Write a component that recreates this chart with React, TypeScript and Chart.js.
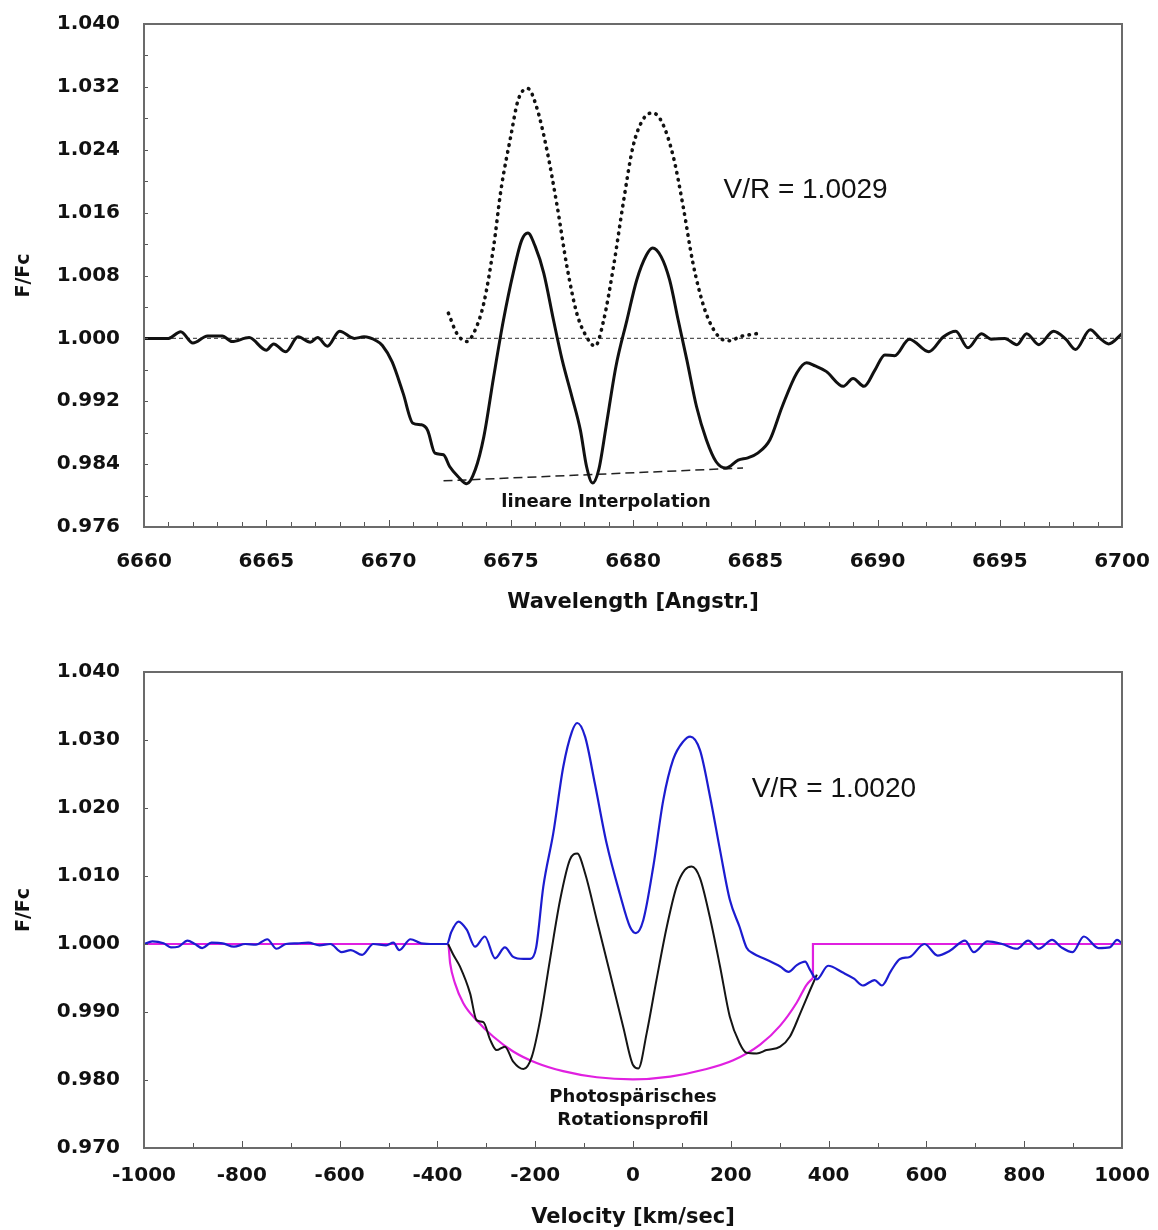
import React, { useEffect, useRef } from 'react';
import { Chart, registerables } from 'chart.js';

Chart.register(...registerables);

// ---------------- DATA: upper panel (wavelength) ----------------
const topXMajor = [6660, 6665, 6670, 6675, 6680, 6685, 6690, 6695, 6700];
const topYMajor = [0.976, 0.984, 0.992, 1.0, 1.008, 1.016, 1.024, 1.032, 1.04];

// observed spectrum (solid)
const observedWave: [number, number][] = [
  [6660.0, 1.0], [6660.5, 1.0], [6661.0, 1.0], [6661.5, 1.00085], [6662.0, 0.9994],
  [6662.6, 1.0003], [6663.2, 1.0003], [6663.6, 0.9996], [6664.3, 1.0001], [6665.0, 0.9985],
  [6665.3, 0.9993], [6665.8, 0.9983], [6666.3, 1.0002], [6666.8, 0.9995], [6667.1, 1.0001],
  [6667.5, 0.999], [6668.0, 1.0009], [6668.6, 1.0], [6669.0, 1.0002], [6669.5, 0.9997],
  [6669.75, 0.9991], [6670.15, 0.997], [6670.6, 0.993], [6671.0, 0.9892], [6671.35, 0.989],
  [6671.6, 0.9883], [6671.9, 0.9854], [6672.25, 0.9852], [6672.5, 0.9837], [6672.85, 0.9824],
  [6673.2, 0.9815], [6673.55, 0.9833], [6673.9, 0.9875], [6674.3, 0.9951], [6674.7, 1.0023],
  [6675.1, 1.0083], [6675.45, 1.0125], [6675.7, 1.0134], [6676.0, 1.0117], [6676.35, 1.0083],
  [6676.75, 1.0023], [6677.1, 0.9973], [6677.5, 0.9926], [6677.85, 0.9883], [6678.1, 0.9837],
  [6678.35, 0.9816], [6678.6, 0.9833], [6678.9, 0.9888], [6679.3, 0.9964], [6679.75, 1.0023],
  [6680.15, 1.0074], [6680.55, 1.0106], [6680.8, 1.0115], [6681.15, 1.0104], [6681.5, 1.0074],
  [6681.85, 1.0023], [6682.2, 0.9973], [6682.6, 0.9913], [6683.0, 0.9871], [6683.4, 0.9843],
  [6683.8, 0.9835], [6684.3, 0.9845], [6684.7, 0.9848], [6685.1, 0.9854], [6685.6, 0.9871],
  [6686.1, 0.9913], [6686.7, 0.9956], [6687.1, 0.9969], [6687.45, 0.9965], [6687.9, 0.9958],
  [6688.6, 0.9939], [6689.0, 0.9949], [6689.45, 0.9939], [6689.9, 0.996], [6690.3, 0.9979],
  [6690.7, 0.9978], [6691.3, 0.9999], [6692.1, 0.9983], [6692.7, 1.0002], [6693.2, 1.0009],
  [6693.7, 0.9988], [6694.25, 1.0006], [6694.65, 0.9999], [6695.2, 1.0], [6695.7, 0.9992],
  [6696.1, 1.0006], [6696.6, 0.9992], [6697.2, 1.0009], [6697.7, 0.9999], [6698.1, 0.9986],
  [6698.7, 1.0011], [6699.1, 1.0], [6699.45, 0.9993], [6700.0, 1.0006],
];

// emission component after subtracting the interpolation (dotted)
const emissionWave: [number, number][] = [
  [6672.45, 1.0032], [6672.8, 1.0006], [6673.2, 0.9996], [6673.55, 1.0011], [6673.9, 1.0045],
  [6674.3, 1.0117], [6674.6, 1.0189], [6675.0, 1.0257], [6675.3, 1.0303], [6675.7, 1.0318],
  [6676.05, 1.0295], [6676.45, 1.0244], [6676.9, 1.0168], [6677.3, 1.0091], [6677.7, 1.0032],
  [6678.1, 1.0002], [6678.45, 0.999], [6678.8, 1.0023], [6679.2, 1.0091], [6679.6, 1.0172],
  [6680.0, 1.0244], [6680.4, 1.0278], [6680.8, 1.0287], [6681.2, 1.0274], [6681.65, 1.0231],
  [6682.05, 1.0168], [6682.45, 1.0096], [6682.9, 1.004], [6683.3, 1.0011], [6683.7, 0.9998],
  [6684.0, 0.9997], [6684.35, 1.0002], [6684.65, 1.0004], [6685.05, 1.0006],
];

const continuumWave: [number, number][] = [[6660, 1.0], [6700, 1.0]];
const interpolationWave: [number, number][] = [[6672.25, 0.98187], [6684.5, 0.9835]];

const topNotes = [
  { text: 'V/R = 1.0029', x: 6683.7, y: 1.0189, kind: 'big' },
  { text: 'lineare Interpolation', x: 6678.9, y: 0.9791, kind: 'small' },
];

// ---------------- DATA: lower panel (velocity) ----------------
const botXMajor = [-1000, -800, -600, -400, -200, 0, 200, 400, 600, 800, 1000];
const botYMajor = [0.97, 0.98, 0.99, 1.0, 1.01, 1.02, 1.03, 1.04];

const emissionVel: [number, number][] = [
  [-1000, 1.0], [-983, 1.0004], [-960, 1.0001], [-945, 0.9995], [-930, 0.9996], [-911, 1.0005],
  [-896, 1.0], [-881, 0.9994], [-862, 1.0002], [-839, 1.0001], [-816, 0.9996], [-793, 1.0],
  [-771, 0.9999], [-748, 1.0007], [-729, 0.9993], [-710, 1.0], [-687, 1.0001], [-664, 1.0002],
  [-641, 0.9998], [-619, 1.0], [-596, 0.9988], [-577, 0.9991], [-554, 0.9984], [-531, 1.0],
  [-505, 0.9998], [-490, 1.0002], [-478, 0.9991], [-455, 1.0007], [-433, 1.0001], [-406, 1.0],
  [-380, 1.0], [-372, 1.0017], [-357, 1.0033], [-340, 1.0021], [-323, 0.9996], [-303, 1.0011],
  [-282, 0.9979], [-262, 0.9995], [-245, 0.9981], [-224, 0.9978], [-210, 0.9978], [-198, 0.9995],
  [-183.5, 1.0084], [-163, 1.0163], [-142.5, 1.0261], [-125, 1.0312], [-114, 1.0325], [-98, 1.0305],
  [-78, 1.0236], [-54, 1.0148], [-27, 1.0074], [-6, 1.0025], [6, 1.0016], [21, 1.0035],
  [41.5, 1.0114], [62, 1.0212], [82, 1.0271], [103, 1.0298], [117, 1.0305], [137, 1.0285],
  [157.5, 1.0217], [178, 1.0138], [198, 1.0065], [218, 1.0025], [232, 0.9995], [246, 0.9986],
  [270, 0.9978], [301, 0.9967], [318, 0.9959], [335, 0.9969], [352, 0.9974], [362, 0.9962],
  [376, 0.9948], [399, 0.9968], [429, 0.9958], [452, 0.9949], [470, 0.9939], [494, 0.9947],
  [509, 0.9939], [528, 0.9961], [546, 0.9978], [566, 0.9981], [596, 1.0], [623, 0.9983],
  [648, 0.999], [679, 1.0005], [697, 0.9988], [725, 1.0004], [755, 1.0], [785, 0.9993],
  [808, 1.0005], [830, 0.9993], [857, 1.0006], [876, 0.9995], [899, 0.9988], [922, 1.0011],
  [952, 0.9994], [975, 0.9995], [990, 1.0006], [1000, 1.0001],
];

const observedVel: [number, number][] = [
  [-378, 1.0], [-368, 0.9985], [-354, 0.9967], [-333, 0.9927], [-320, 0.9888], [-306, 0.9885],
  [-292, 0.9859], [-279, 0.9844], [-262, 0.9849], [-245, 0.9827], [-224, 0.9816], [-207, 0.9834],
  [-190, 0.9888], [-170, 0.9976], [-149, 1.0065], [-129, 1.0124], [-114, 1.0133], [-98, 1.0104],
  [-74, 1.0035], [-47, 0.9957], [-20, 0.9878], [0, 0.9822], [11, 0.9817], [28, 0.9869],
  [48, 0.9947], [69, 1.0025], [89, 1.0084], [106, 1.0109], [120, 1.0114], [137, 1.0097],
  [157, 1.004], [178, 0.9967], [198, 0.9893], [218, 0.9854], [232, 0.984], [253, 0.9839],
  [273, 0.9844], [301, 0.9849], [321, 0.9864], [342, 0.9898], [362, 0.9932], [376, 0.9955],
];

const rotationArc: [number, number][] = [
  [-1000, 1.0], [-378, 1.0], [-374, 0.9972], [-364, 0.9942], [-347, 0.9913], [-320, 0.9888],
  [-286, 0.9864], [-245, 0.9842], [-197, 0.9825], [-143, 0.9813], [-74, 0.9804], [0, 0.9801],
  [76, 0.9805], [144, 0.9815], [205, 0.9829], [260, 0.9852], [301, 0.988], [335, 0.9914],
  [355, 0.994], [368, 0.995],
];
const rotationStep: [number, number][] = [[368, 0.995], [368, 1.0], [1000, 1.0]];

const botNotes = [
  { text: 'V/R = 1.0020', x: 243, y: 1.0227, kind: 'big' },
  { text: 'Photospärisches', x: 0, y: 0.9775, kind: 'small' },
  { text: 'Rotationsprofil', x: 0, y: 0.9740, kind: 'small' },
];

// ---------------- helpers ----------------
const W = 1158;
const H = 615;
const TICK_FONT = { family: '"DejaVu Sans"', size: 20, weight: 'bold' as const };
const TITLE_FONT = { family: '"DejaVu Sans"', size: 21, weight: 'bold' as const };

const pts = (arr: [number, number][]) => arr.map(([x, y]) => ({ x, y }));
const isIn = (v: number, list: number[]) => list.some((m) => Math.abs(m - v) < 1e-7);

function makeFramePlugin(xMajor: number[], yMajor: number[], notes: { text: string; x: number; y: number; kind: string }[]) {
  return {
    id: 'frameAndNotes',
    afterDatasetsDraw(chart: any) {
      const { ctx, chartArea: a, scales } = chart;
      const xs = scales.x;
      const ys = scales.y;
      ctx.save();
      ctx.strokeStyle = '#555';
      ctx.lineWidth = 1;
      xs.ticks.forEach((t: any) => {
        const px = Math.round(xs.getPixelForValue(t.value)) + 0.5;
        const len = isIn(t.value, xMajor) ? 7 : 5;
        ctx.beginPath();
        ctx.moveTo(px, a.bottom);
        ctx.lineTo(px, a.bottom - len);
        ctx.stroke();
      });
      ys.ticks.forEach((t: any) => {
        const py = Math.round(ys.getPixelForValue(t.value)) + 0.5;
        ctx.beginPath();
        ctx.moveTo(a.left, py);
        ctx.lineTo(a.left + 4, py);
        ctx.stroke();
      });
      ctx.strokeStyle = '#6b6b6b';
      ctx.lineWidth = 2;
      ctx.strokeRect(a.left, a.top, a.right - a.left, a.bottom - a.top);

      notes.forEach((n) => {
        ctx.font = n.kind === 'big' ? '28px "Liberation Sans"' : 'bold 18px "DejaVu Sans"';
        ctx.textAlign = n.kind === 'big' ? 'left' : 'center';
        ctx.textBaseline = 'middle';
        ctx.fillStyle = '#111';
        ctx.fillText(n.text, xs.getPixelForValue(n.x), ys.getPixelForValue(n.y));
      });
      ctx.restore();
    },
  };
}

function baseOptions(opts: {
  padTop: number;
  xHeight: number;
  xTickPad: number;
  xMin: number; xMax: number; xStep: number; xMajor: number[]; xTitle: string;
  yMin: number; yMax: number; yStep: number; yMajor: number[];
}) {
  return {
    responsive: false,
    animation: false,
    devicePixelRatio: 1,
    layout: { padding: { top: opts.padTop, right: 36, left: 0, bottom: 0 } },
    plugins: { legend: { display: false }, tooltip: { enabled: false } },
    elements: { point: { radius: 0 } },
    scales: {
      x: {
        type: 'linear',
        min: opts.xMin,
        max: opts.xMax,
        grid: { display: false, drawTicks: false },
        border: { display: false },
        afterFit: (s: any) => { s.height = opts.xHeight; s.paddingLeft = 0; s.paddingRight = 0; },
        ticks: {
          stepSize: opts.xStep,
          autoSkip: false,
          maxRotation: 0,
          padding: opts.xTickPad,
          color: '#111',
          font: TICK_FONT,
          callback: (v: number) => (isIn(v, opts.xMajor) ? String(Math.round(v)) : ''),
        },
        title: { display: true, text: opts.xTitle, color: '#111', font: TITLE_FONT, padding: { top: 0, bottom: 0 } },
      },
      y: {
        type: 'linear',
        min: opts.yMin,
        max: opts.yMax,
        grid: { display: false, drawTicks: false },
        border: { display: false },
        afterFit: (s: any) => { s.width = 144; s.paddingTop = 0; s.paddingBottom = 0; },
        ticks: {
          stepSize: opts.yStep,
          autoSkip: false,
          padding: 24,
          color: '#111',
          font: TICK_FONT,
          callback: (v: number) => (isIn(v, opts.yMajor) ? v.toFixed(3) : ''),
        },
        title: { display: true, text: 'F/Fc', color: '#111', font: { family: '"DejaVu Sans"', size: 19, weight: 'bold' }, padding: { top: 13, bottom: 0 } },
      },
    },
  };
}

function topConfig(): any {
  return {
    type: 'line',
    data: {
      datasets: [
        { data: pts(observedWave), borderColor: '#111', borderWidth: 3, cubicInterpolationMode: 'monotone', order: 0 },
        {
          data: pts(emissionWave), borderColor: '#111', borderWidth: 3.6, borderDash: [0.5, 6.5],
          borderCapStyle: 'round', cubicInterpolationMode: 'monotone', order: 1,
        },
        { data: pts(continuumWave), borderColor: '#555', borderWidth: 1.2, borderDash: [4, 3], order: 2 },
        { data: pts(interpolationWave), borderColor: '#222', borderWidth: 1.5, borderDash: [9, 5], order: 3 },
      ],
    },
    options: baseOptions({
      padTop: 24, xHeight: 88, xTickPad: 23,
      xMin: 6660, xMax: 6700, xStep: 1, xMajor: topXMajor, xTitle: 'Wavelength [Angstr.]',
      yMin: 0.976, yMax: 1.04, yStep: 0.004, yMajor: topYMajor,
    }),
    plugins: [makeFramePlugin(topXMajor, topYMajor, topNotes)],
  };
}

function bottomConfig(): any {
  return {
    type: 'line',
    data: {
      datasets: [
        { data: pts(emissionVel), borderColor: '#1c1cd0', borderWidth: 2.2, cubicInterpolationMode: 'monotone', order: 0 },
        { data: pts(observedVel), borderColor: '#151515', borderWidth: 2, cubicInterpolationMode: 'monotone', order: 1 },
        { data: pts(rotationArc), borderColor: '#e020e0', borderWidth: 2.2, cubicInterpolationMode: 'monotone', order: 2 },
        { data: pts(rotationStep), borderColor: '#e020e0', borderWidth: 2.2, tension: 0, order: 2 },
      ],
    },
    options: baseOptions({
      padTop: 57, xHeight: 82, xTickPad: 16,
      xMin: -1000, xMax: 1000, xStep: 100, xMajor: botXMajor, xTitle: 'Velocity [km/sec]',
      yMin: 0.97, yMax: 1.04, yStep: 0.01, yMajor: botYMajor,
    }),
    plugins: [makeFramePlugin(botXMajor, botYMajor, botNotes)],
  };
}

function ChartCanvas({ make, top }: { make: () => any; top: number }) {
  const ref = useRef<HTMLCanvasElement | null>(null);
  useEffect(() => {
    if (!ref.current) return;
    const chart = new Chart(ref.current, make());
    return () => chart.destroy();
  }, [make]);
  return (
    <canvas
      ref={ref}
      width={W}
      height={H}
      style={{ position: 'absolute', left: 0, top, width: W, height: H, display: 'block' }}
    />
  );
}

export default function App() {
  return (
    <div style={{ position: 'absolute', left: 0, top: 0, width: W, height: 1230, background: '#fff' }}>
      <ChartCanvas make={topConfig} top={0} />
      <ChartCanvas make={bottomConfig} top={615} />
    </div>
  );
}
